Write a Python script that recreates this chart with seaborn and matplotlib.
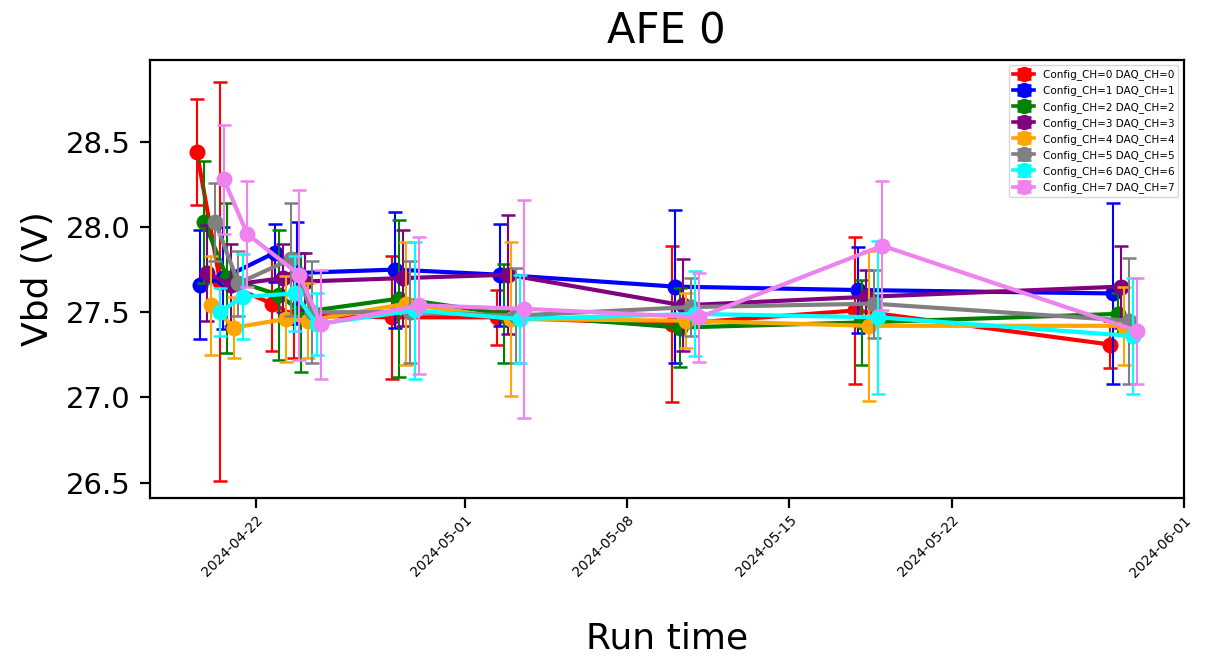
import matplotlib
matplotlib.use("Agg")
import matplotlib.pyplot as plt
import matplotlib.dates as mdates
from matplotlib.lines import Line2D
import seaborn as sns
import pandas as pd
import numpy as np

# ---- data ----
run_dates = ["2024-04-19 10:48", "2024-04-20 10:48", "2024-04-22 16:48", "2024-04-23 15:22",
             "2024-04-27 20:52", "2024-05-02 09:36", "2024-05-09 22:48", "2024-05-17 20:10",
             "2024-05-28 20:10"]
channel_delay_hours = [0.0, 3.0, 7.5, 11.0, 14.5, 19.0, 23.5, 28.0]
channel_labels = [f"Config_CH={i} DAQ_CH={i}" for i in range(8)]
colors = ["red", "blue", "green", "purple", "orange", "gray", "cyan", "violet"]

vbd_ch0 = [28.44, 27.68, 27.55, 27.48, 27.47, 27.47, 27.43, 27.51, 27.31]
vbd_ch1 = [27.66, 27.70, 27.85, 27.73, 27.75, 27.72, 27.65, 27.63, 27.61]
vbd_ch2 = [28.03, 27.70, 27.60, 27.50, 27.58, 27.49, 27.41, 27.44, 27.49]
vbd_ch3 = [27.73, 27.66, 27.70, 27.68, 27.70, 27.72, 27.54, 27.59, 27.65]
vbd_ch4 = [27.54, 27.41, 27.46, 27.45, 27.55, 27.46, 27.45, 27.42, 27.42]
vbd_ch5 = [28.03, 27.67, 27.81, 27.50, 27.50, 27.48, 27.53, 27.55, 27.45]
vbd_ch6 = [27.50, 27.59, 27.61, 27.43, 27.51, 27.46, 27.49, 27.47, 27.36]
vbd_ch7 = [28.28, 27.96, 27.72, 27.43, 27.54, 27.52, 27.47, 27.89, 27.39]

err_ch0 = [0.31, 1.17, 0.28, 0.25, 0.36, 0.16, 0.46, 0.43, 0.14]
err_ch1 = [0.32, 0.30, 0.17, 0.30, 0.34, 0.30, 0.45, 0.25, 0.53]
err_ch2 = [0.36, 0.44, 0.38, 0.35, 0.46, 0.29, 0.23, 0.25, 0.12]
err_ch3 = [0.28, 0.24, 0.20, 0.17, 0.28, 0.35, 0.27, 0.16, 0.24]
err_ch4 = [0.29, 0.18, 0.25, 0.22, 0.36, 0.45, 0.16, 0.44, 0.23]
err_ch5 = [0.23, 0.19, 0.33, 0.30, 0.30, 0.28, 0.17, 0.20, 0.37]
err_ch6 = [0.14, 0.25, 0.22, 0.18, 0.40, 0.26, 0.25, 0.45, 0.34]
err_ch7 = [0.32, 0.31, 0.50, 0.32, 0.40, 0.64, 0.26, 0.38, 0.31]

xtick_dates = ["2024-04-22", "2024-05-01", "2024-05-08", "2024-05-15", "2024-05-22", "2024-06-01"]
yticks = [26.5, 27.0, 27.5, 28.0, 28.5]

vbd_all = [vbd_ch0, vbd_ch1, vbd_ch2, vbd_ch3, vbd_ch4, vbd_ch5, vbd_ch6, vbd_ch7]
err_all = [err_ch0, err_ch1, err_ch2, err_ch3, err_ch4, err_ch5, err_ch6, err_ch7]

base = pd.to_datetime(run_dates)
rows = []
for ch in range(8):
    t = base + pd.to_timedelta(channel_delay_hours[ch], unit="h")
    for k in range(len(base)):
        rows.append({"time": t[k], "vbd": vbd_all[ch][k], "err": err_all[ch][k],
                     "label": channel_labels[ch]})
df = pd.DataFrame(rows)

# ---- plot ----
fig, ax = plt.subplots(figsize=(12.24, 6.56), dpi=100)
fig.subplots_adjust(left=0.1225, right=0.967, top=0.9085, bottom=0.241)

handles = []
for ch in range(8):
    sub = df[df["label"] == channel_labels[ch]]
    sns.lineplot(data=sub, x="time", y="vbd", color=colors[ch], marker="o",
                 markersize=11.5, markeredgewidth=0, linewidth=3.0, estimator=None,
                 ax=ax, legend=False)
    eb = ax.errorbar(sub["time"], sub["vbd"], yerr=sub["err"], fmt="none",
                     ecolor=colors[ch], elinewidth=1.5, capsize=4.7, capthick=1.8)
    h = Line2D([], [], color=colors[ch], marker="o", markersize=11,
               markeredgewidth=0, linewidth=2.6)
    handles.append((h, eb))

ax.set_xlim(pd.Timestamp("2024-04-17 10:15"), pd.Timestamp("2024-06-01 00:00"))
ax.set_ylim(26.41, 28.98)
ax.set_xticks(pd.to_datetime(xtick_dates))
ax.xaxis.set_major_formatter(mdates.DateFormatter("%Y-%m-%d"))
ax.set_yticks(yticks)
ax.set_yticklabels([f"{v:.1f}" for v in yticks])
plt.setp(ax.get_xticklabels(), rotation=45, ha="right", va="top",
         rotation_mode="anchor", fontsize=10)
ax.tick_params(axis="y", labelsize=21, length=7, width=1.6, pad=7)
ax.tick_params(axis="x", length=7, width=1.6, pad=4)
for sp in ax.spines.values():
    sp.set_linewidth(1.6)

ax.set_title("AFE 0", fontsize=30, pad=12)
ax.set_xlabel("Run time", fontsize=26, labelpad=30)
ax.set_ylabel("Vbd (V)", fontsize=26, labelpad=8)

ax.legend(handles, channel_labels, loc="upper right", fontsize=7.5)

fig.savefig("out.png", dpi=100)
